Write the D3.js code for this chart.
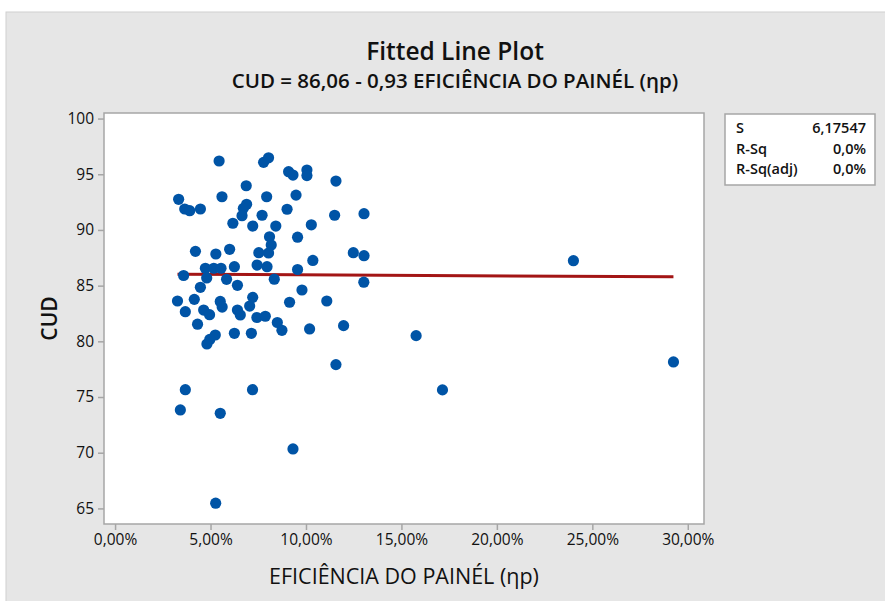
<!DOCTYPE html>
<html>
<head>
<meta charset="utf-8">
<style>
  body { margin: 0; background: #fff; }
  svg { font-family: "Open Sans", "Noto Sans", sans-serif; }
</style>
</head>
<body>
<svg width="885" height="601" class="chart"></svg>
<script src="https://cdn.jsdelivr.net/npm/d3@7"></script>
<script>
    // eficiencia do painel (%) and CUD (%)
    eficiencia = [
        5.45, 7.78, 8.04, 9.09, 9.32, 10.05, 10.05, 11.57, 3.33, 3.65,
        3.91, 4.47, 5.60, 6.87, 7.94, 9.48, 6.89, 6.72, 6.65, 7.70,
        9.01, 11.50, 13.04, 6.17, 7.21, 8.42, 10.28, 8.09, 8.18, 8.04,
        7.53, 9.56, 4.21, 5.28, 6.00, 12.48, 13.04, 10.36, 4.73, 5.17,
        5.55, 6.25, 7.44, 7.96, 9.56, 3.59, 4.80, 5.84, 8.34, 13.03,
        4.47, 6.41, 9.79, 3.27, 4.15, 5.51, 5.61, 7.21, 7.05, 9.14,
        11.09, 3.68, 4.64, 4.95, 6.41, 6.56, 7.43, 7.87, 8.50, 8.74,
        4.32, 10.19, 11.97, 5.25, 4.96, 4.81, 6.25, 7.14, 11.57, 3.68,
        7.20, 3.42, 5.51, 9.32, 5.27, 15.77, 17.15, 24.01, 29.25
    ]
    cud = [
        96.19, 96.07, 96.48, 95.23, 94.93, 95.38, 94.88, 94.39, 92.75, 91.88,
        91.73, 91.88, 92.98, 93.97, 92.98, 93.13, 92.30, 91.94, 91.28, 91.32,
        91.86, 91.32, 91.46, 90.60, 90.35, 90.35, 90.46, 89.39, 88.65, 87.93,
        87.96, 89.35, 88.08, 87.84, 88.26, 87.96, 87.69, 87.26, 86.56, 86.56,
        86.56, 86.70, 86.85, 86.70, 86.45, 85.91, 85.69, 85.57, 85.58, 85.31,
        84.85, 85.03, 84.61, 83.62, 83.77, 83.58, 83.08, 83.95, 83.17, 83.51,
        83.62, 82.66, 82.81, 82.39, 82.81, 82.37, 82.14, 82.25, 81.69, 80.99,
        81.54, 81.11, 81.41, 80.57, 80.17, 79.76, 80.72, 80.72, 77.91, 75.66,
        75.66, 73.84, 73.54, 70.34, 65.47, 80.51, 75.64, 87.24, 78.15
    ]
    // CUD = 86,06 - 0,93 x   (x as a fraction)
    coef = [86.06, -0.93]
    xTicks = [0, 5, 10, 15, 20, 25, 30]
    yTicks = [65, 70, 75, 80, 85, 90, 95, 100]
    statNames = ["S", "R-Sq", "R-Sq(adj)"]
    statValues = ["6,17547", "0,0%", "0,0%"]

    var points = eficiencia.map(function(d, i){ return [d, cud[i]] })

    var pt = d3.formatLocale({decimal: ",", thousands: ".", grouping: [3], currency: ["R$", ""]})
    var fmt2 = pt.format(".2f")

    var svg = d3.select(".chart")
    var pLeft = 104, pRight = 704, pTop = 113, pBottom = 524

    // gray background panel
    svg.append("rect").attr("x", 6).attr("y", 12).attr("width", 885).attr("height", 601)
        .attr("fill", "#e6e6e6").attr("stroke", "#cfcfcf")

    var x = d3.scaleLinear().domain([-0.58, 30.85]).range([pLeft, pRight])
    var y = d3.scaleLinear().domain([63.6, 100.5]).range([pBottom, pTop])

    svg.append("rect").attr("x", pLeft).attr("y", pTop)
        .attr("width", pRight - pLeft).attr("height", pBottom - pTop)
        .attr("fill", "#fff").attr("stroke", "#a6a6a6").attr("stroke-width", 1.5)

    var xAxis = svg.append("g").attr("transform", "translate(0," + pBottom + ")")
        .call(d3.axisBottom(x).tickValues(xTicks).tickSize(6).tickPadding(4)
            .tickFormat(function(d){ return fmt2(d) + "%" }))
    var yAxis = svg.append("g").attr("transform", "translate(" + pLeft + ",0)")
        .call(d3.axisLeft(y).tickValues(yTicks).tickSize(6).tickPadding(4))
    ;[xAxis, yAxis].forEach(function(a){
        a.select(".domain").remove()
        a.selectAll("line").attr("stroke", "#a6a6a6").attr("stroke-width", 1.5)
        a.selectAll("text").attr("font-family", "Open Sans").attr("font-size", 15.5)
            .attr("font-weight", 500).attr("fill", "#111")
    })

    // fitted line
    var xr = d3.extent(eficiencia)
    svg.append("line")
        .attr("x1", x(xr[0])).attr("y1", y(coef[0] + coef[1] * xr[0] / 100))
        .attr("x2", x(xr[1])).attr("y2", y(coef[0] + coef[1] * xr[1] / 100))
        .attr("stroke", "#a31515").attr("stroke-width", 3)

    svg.selectAll("circle").data(points).enter().append("circle")
        .attr("cx", function(d){ return x(d[0]) })
        .attr("cy", function(d){ return y(d[1]) })
        .attr("r", 5.6).attr("fill", "#0054a6")

    // titles
    svg.append("text").attr("x", 455).attr("y", 60).attr("text-anchor", "middle")
        .attr("font-size", 24.5).attr("font-weight", 600).attr("fill", "#111")
        .text("Fitted Line Plot")
    svg.append("text").attr("x", 455).attr("y", 88).attr("text-anchor", "middle")
        .attr("font-size", 20.5).attr("font-weight", 600).attr("fill", "#111")
        .text("CUD = 86,06 - 0,93 EFICIÊNCIA DO PAINÉL (ηp)")
    svg.append("text").attr("x", (pLeft + pRight) / 2).attr("y", 584).attr("text-anchor", "middle")
        .attr("font-size", 21.5).attr("font-weight", 500).attr("fill", "#111")
        .text("EFICIÊNCIA DO PAINÉL (ηp)")
    svg.append("text").attr("transform", "translate(57," + (pTop + pBottom) / 2 + ") rotate(-90)")
        .attr("text-anchor", "middle").attr("font-size", 21).attr("font-weight", 600)
        .attr("fill", "#111").text("CUD")

    // summary box
    svg.append("rect").attr("x", 725).attr("y", 114).attr("width", 150).attr("height", 71)
        .attr("fill", "#fff").attr("stroke", "#a6a6a6").attr("stroke-width", 1.5)
    statNames.forEach(function(n, i){
        svg.append("text").attr("x", 736).attr("y", 133 + i * 20.5)
            .attr("font-size", 14.5).attr("font-weight", 600).attr("fill", "#111").text(n)
        svg.append("text").attr("x", 866).attr("y", 133 + i * 20.5).attr("text-anchor", "end")
            .attr("font-size", 14.5).attr("font-weight", 600).attr("fill", "#111").text(statValues[i])
    })
</script>
</body>
</html>
